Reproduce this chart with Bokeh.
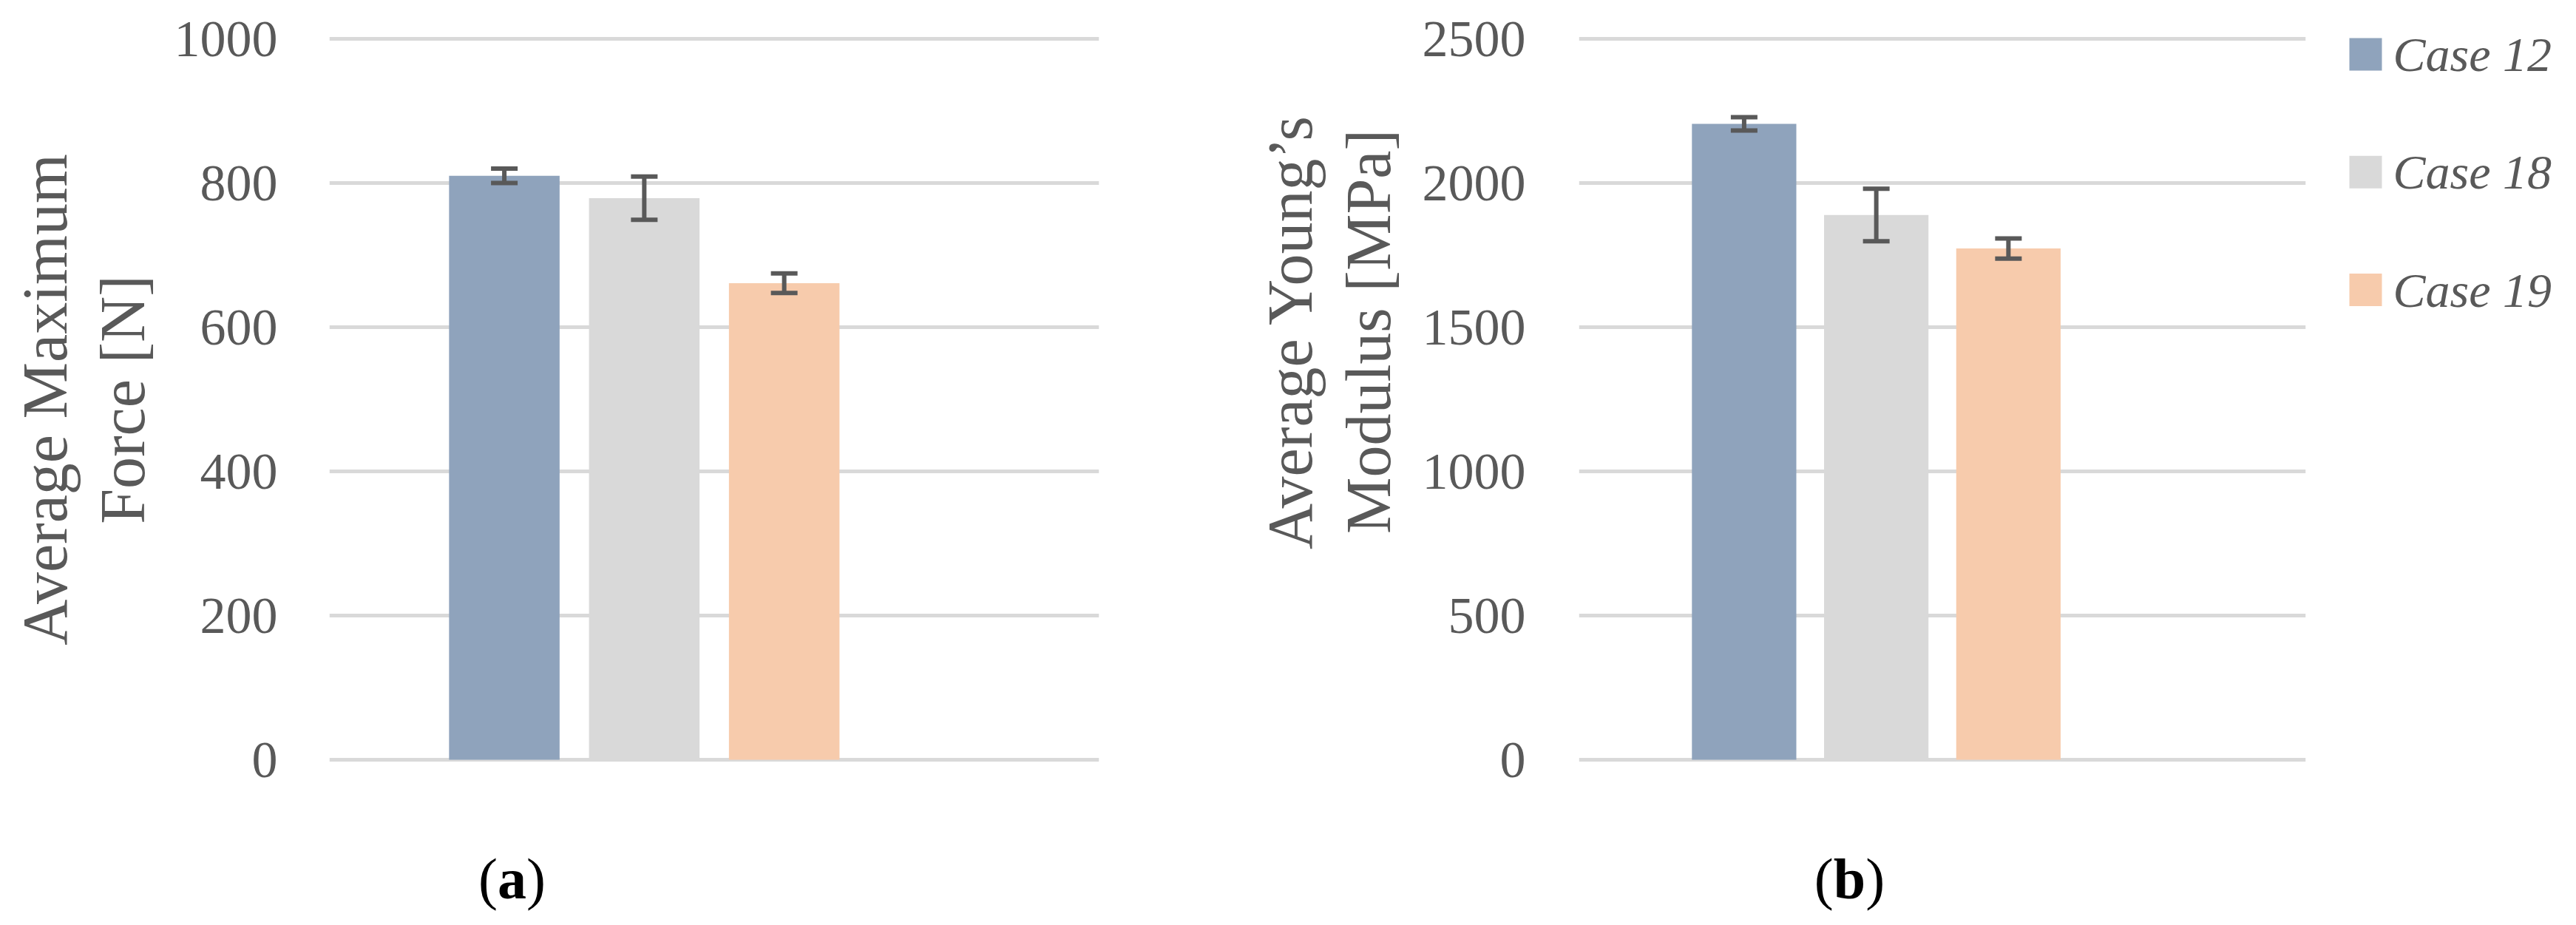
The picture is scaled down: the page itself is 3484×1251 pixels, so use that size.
import math
from bokeh.plotting import figure
from bokeh.models import Range1d, Whisker, TeeHead, ColumnDataSource
from bokeh.layouts import row
from bokeh.embed import file_html
from bokeh.resources import INLINE
from bokeh.core.properties import value

# ---------------- data ----------------
cases = ["Case 12", "Case 18", "Case 19"]
colors = ["#8FA3BC", "#D9D9D9", "#F7CBAC"]

force_mean = [810, 779, 661]
force_err = [10, 30, 13.5]
force_ticks = [0, 200, 400, 600, 800, 1000]
force_title = ["Average Maximum", "Force [N]"]

modulus_mean = [2205, 1889, 1773]
modulus_err = [23, 91, 35]
modulus_ticks = [0, 500, 1000, 1500, 2000, 2500]
modulus_title = ["Average Young\u2019s", "Modulus [MPa]"]

panel_tags = ["a", "b"]

# ---------------- style ----------------
H = 1235
TOP = 42                 # frame top (px) shared by every figure in the row
GRID_SPAN = 975          # px between lowest and highest gridline
GRID_PAD = 10
X0, X1 = -1.25, 4.25
BAR_W = 0.79
TXT = "#595959"
GRID = "#D9D9D9"
SERIF = "Liberation Serif"
TAG_BASE = 1188


def title_fig(width, lines, base_px, center_px):
    # y data == pixel row of the figure (frame spans TOP..H)
    p = figure(width=width, height=H, x_range=Range1d(0, width),
               y_range=Range1d(H, TOP), output_backend="svg", title=None,
               toolbar_location=None, x_axis_location=None,
               y_axis_location=None, min_border_left=0, min_border_right=0,
               min_border_top=TOP, min_border_bottom=0)
    p.outline_line_color = None
    p.grid.visible = False
    src = ColumnDataSource(dict(x=base_px, y=[center_px] * len(lines), t=lines))
    p.text(x="x", y="y", text="t", angle=math.pi / 2, text_align="center",
           text_baseline="alphabetic", text_font=value(SERIF),
           text_font_size="86px", text_color=TXT, source=src)
    return p


def panel(width, bl, br, means, errs, ticks, tag, tag_cx_px, standoff):
    ymax = ticks[-1]
    upp = ymax / GRID_SPAN
    yend = ymax + GRID_PAD * upp
    ystart = yend - (H - TOP) * upp
    yr = Range1d(ystart, yend)
    p = figure(width=width, height=H, x_range=Range1d(X0, X1), y_range=yr,
               output_backend="svg", toolbar_location=None, title=None,
               x_axis_location=None,
               min_border_left=bl, min_border_right=br,
               min_border_top=TOP, min_border_bottom=0)
    p.outline_line_color = None
    p.xgrid.visible = False
    p.ygrid.grid_line_color = GRID
    p.ygrid.grid_line_width = 5
    ax = p.yaxis[0]
    ax.ticker = ticks
    ax.axis_line_color = None
    ax.major_tick_line_color = None
    ax.minor_tick_line_color = None
    ax.major_tick_out = 0
    ax.major_tick_in = 0
    ax.minor_tick_out = 0
    ax.major_label_standoff = standoff
    ax.major_label_text_font = SERIF
    ax.major_label_text_font_size = "70px"
    ax.major_label_text_color = TXT

    xs = list(range(len(means)))
    src = ColumnDataSource(dict(
        x=xs, top=means, color=colors,
        upper=[m + e for m, e in zip(means, errs)],
        lower=[m - e for m, e in zip(means, errs)]))
    p.vbar(x="x", top="top", bottom=0, width=BAR_W, fill_color="color",
           line_color=None, source=src)
    w = Whisker(base="x", upper="upper", lower="lower", source=src,
                line_color=TXT, line_width=6, level="overlay",
                upper_head=TeeHead(size=36, line_color=TXT, line_width=6),
                lower_head=TeeHead(size=36, line_color=TXT, line_width=6))
    p.add_layout(w)

    fw = width - bl - br
    ppx = fw / (X1 - X0)
    tx = X0 + (tag_cx_px - bl) / ppx
    ty = yend - (TAG_BASE - TOP) * upp

    fs = 78
    half = fs * (0.5 if tag == "a" else 0.556) / 2
    p.text(x=[tx], y=[ty], text=["("], x_offset=-half, text_align="right",
           text_baseline="alphabetic", text_font=value(SERIF),
           text_font_size=f"{fs}px", text_color="black")
    p.text(x=[tx], y=[ty], text=[")"], x_offset=half, text_align="left",
           text_baseline="alphabetic", text_font=value(SERIF),
           text_font_size=f"{fs}px", text_color="black")
    p.text(x=[tx], y=[ty], text=[tag], text_align="center",
           text_baseline="alphabetic", text_font=value(SERIF),
           text_font_style="bold",
           text_font_size=f"{fs}px", text_color="black")
    return p


ta = title_fig(218, force_title, [60, 165], 540)
p1 = panel(1382, 227, 114, force_mean, force_err, force_ticks,
           panel_tags[0], 474, 70)
tb = title_fig(300, modulus_title, [144, 250], 448)
p2 = panel(1240, 235, 22, modulus_mean, modulus_err, modulus_ticks,
           panel_tags[1], 601, 72)

# legend panel
LW = 328
ITEM_SP = 159.25
FIRST = 73
p3 = figure(width=LW, height=H, x_range=Range1d(0, LW),
            y_range=Range1d((H - FIRST) / ITEM_SP, -(FIRST - TOP) / ITEM_SP),
            output_backend="svg", toolbar_location=None, title=None,
            x_axis_location=None, y_axis_location=None,
            min_border_left=0, min_border_right=0,
            min_border_top=TOP, min_border_bottom=0)
p3.outline_line_color = None
p3.grid.visible = False
lsrc = ColumnDataSource(dict(y=list(range(len(cases))), name=cases, color=colors,
                             sx=[59] * len(cases), tx=[96] * len(cases)))
p3.scatter(x="sx", y="y", marker="square", size=44, fill_color="color",
           line_color=None, source=lsrc)
p3.text(x="tx", y="y", text="name", text_font=value(SERIF),
        text_font_style="italic", text_font_size="66px", text_color=TXT,
        text_baseline="middle", source=lsrc)

layout = row(ta, p1, tb, p2, p3)
open("out.html", "w").write(file_html(layout, INLINE))
